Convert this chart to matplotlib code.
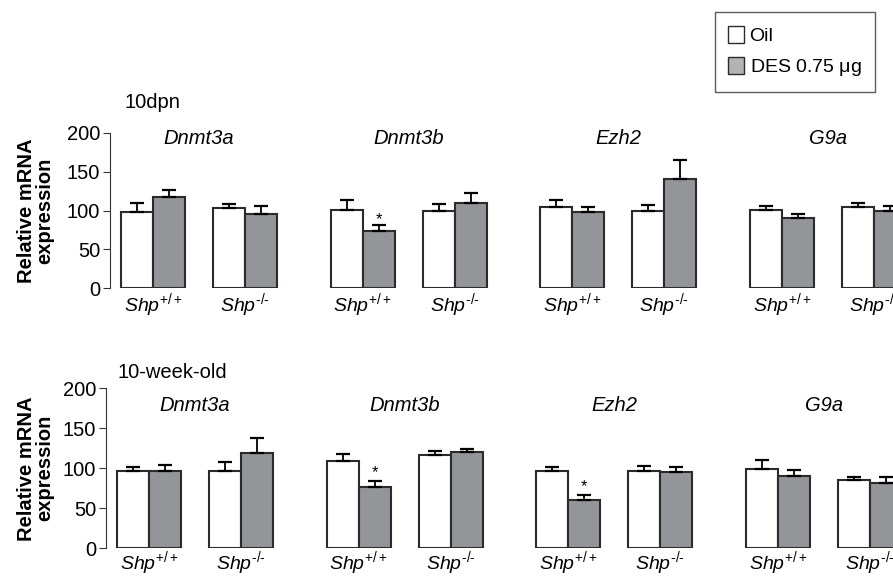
import numpy as np
import matplotlib.pyplot as plt
from matplotlib.patches import Patch

plt.rcParams['font.family'] = ['Liberation Sans', 'DejaVu Sans']
plt.rcParams['mathtext.fontset'] = 'custom'
plt.rcParams['mathtext.rm'] = 'Liberation Sans'
plt.rcParams['mathtext.it'] = 'Liberation Sans:italic'

# genes and genotypes
genes = ['Dnmt3a', 'Dnmt3b', 'Ezh2', 'G9a']
genotypes = [r'$\mathit{Shp}^{+/+}$', r'$\mathit{Shp}^{\text{-/-}}$']

# 10dpn: values ordered gene x genotype (Shp+/+, Shp-/-)
dpn_oil = [98, 103, 101, 100, 104, 99, 101, 104]
dpn_oil_err = [11, 5, 12, 8, 10, 8, 5, 5]
dpn_des = [117, 96, 74, 110, 98, 140, 90, 100]
dpn_des_err = [9, 10, 7, 12, 6, 25, 5, 6]
dpn_star = [False, False, True, False, False, False, False, False]

# 10-week-old
wk_oil = [97, 97, 109, 117, 96, 97, 99, 85]
wk_oil_err = [5, 11, 9, 5, 6, 6, 11, 4]
wk_des = [97, 119, 76, 120, 60, 95, 90, 82]
wk_des_err = [7, 19, 8, 4, 7, 7, 8, 7]
wk_star = [False, False, True, False, True, False, False, False]

W, H = 893, 578
fig = plt.figure(figsize=(W / 100, H / 100), dpi=100)

gene_start = np.array([1.35, 7.9, 14.45, 21.0])
centers = np.ravel(np.column_stack([gene_start, gene_start + 2.87]))

white = 'white'
grey = '#939598'
edge = '#2b2b2b'


def panel(left_px, base_px, h_px, oil, oil_err, des, des_err, stars,
          title, title_xy, gene_y, shp_y, star_off):
    ax = fig.add_axes([left_px / W, (H - base_px) / H, 800 / W, h_px / H])
    ax.set_xlim(0, 800 / 32)
    ax.set_ylim(0, 200)
    ax.bar(centers - 0.5, oil, width=1, color=white, edgecolor=edge, linewidth=1.5,
           yerr=[np.zeros(8), oil_err], capsize=5,
           error_kw=dict(elinewidth=1.3, capthick=1.6, ecolor='black'))
    ax.bar(centers + 0.5, des, width=1, color=grey, edgecolor=edge, linewidth=1.5,
           yerr=[np.zeros(8), des_err], capsize=5,
           error_kw=dict(elinewidth=1.3, capthick=1.6, ecolor='black'))
    for i, s in enumerate(stars):
        if s:
            ax.text(centers[i] + 0.5, des[i] + des_err[i] + star_off, '*',
                    ha='center', va='center', fontsize=12)
    for g, name in enumerate(genes):
        ax.text(gene_start[g] + 1.435, gene_y, name, ha='center', va='center',
                fontsize=14.5, style='italic', clip_on=False)
    for i, c in enumerate(centers):
        ax.text(c, shp_y, genotypes[i % 2], ha='center', va='center',
                fontsize=14, clip_on=False)
    for sp in ['top', 'right', 'bottom']:
        ax.spines[sp].set_visible(False)
    ax.spines['left'].set_color('#333333')
    ax.set_xticks([])
    ax.set_yticks([0, 50, 100, 150, 200])
    ax.tick_params(axis='y', labelsize=14.5, length=5, pad=2, color='#333333')
    fig.text(title_xy[0] / W, 1 - title_xy[1] / H, title, fontsize=14.5,
             ha='left', va='center')
    fig.text(36 / W, 1 - (base_px - h_px / 2) / H, 'Relative mRNA\nexpression',
             rotation=90, ha='center', va='center', fontsize=14.5,
             fontweight='bold', linespacing=0.95)
    return ax


panel(110, 288.3, 155.6, dpn_oil, dpn_oil_err, dpn_des, dpn_des_err, dpn_star,
      '10dpn', (124, 103), 193, -21, 7)
panel(106, 548.3, 160, wk_oil, wk_oil_err, wk_des, wk_des_err, wk_star,
      '10-week-old', (118, 373), 179, -19, 10)

handles = [Patch(facecolor='white', edgecolor=edge, label='Oil'),
           Patch(facecolor='#b3b3b3', edgecolor=edge, label=r'DES 0.75 $\mathrm{\mu}$g')]
leg = fig.legend(handles=handles, loc='upper right',
                 bbox_to_anchor=(875 / W, 1 - 12 / H), fontsize=14,
                 frameon=True, fancybox=False, edgecolor='#333333',
                 handlelength=0.8, handleheight=1.0, handletextpad=0.3,
                 borderpad=0.7, labelspacing=0.6, borderaxespad=0)
leg.get_frame().set_linewidth(1.0)

fig.savefig('out.png', dpi=100)
